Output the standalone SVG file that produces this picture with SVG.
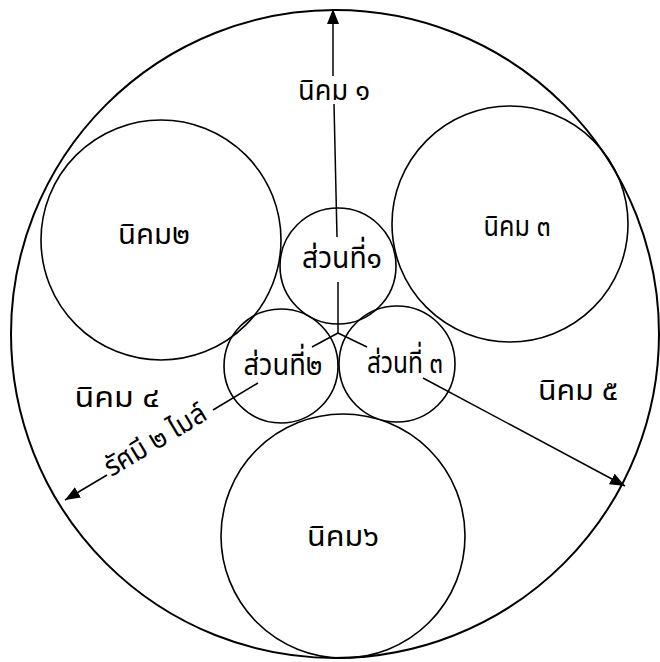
<svg xmlns="http://www.w3.org/2000/svg" width="660" height="662" viewBox="0 0 660 662">
<style>
.c{fill:none;stroke:#000;stroke-width:1.6}
.big{fill:none;stroke:#000;stroke-width:2}
.l{fill:none;stroke:#000;stroke-width:1.5}
.t{font-family:"Noto Sans Thai","Noto Sans","DejaVu Sans",sans-serif;font-size:28px;fill:#000;text-anchor:middle}
.s{font-size:31px}
</style>
<defs>
<marker id="ah" markerUnits="userSpaceOnUse" markerWidth="16" markerHeight="12" refX="15" refY="6" orient="auto">
<path d="M0,0 L15,6 L0,12 Z" fill="#000"/>
</marker>
</defs>
<rect width="660" height="662" fill="#fff"/>
<g id="boundary"><circle class="big" cx="335" cy="334" r="324"/></g>
<g id="nikhom2"><circle class="c" cx="161" cy="240" r="120"/><text class="t" x="154" y="244" textLength="72" lengthAdjust="spacingAndGlyphs">นิคม๒</text></g>
<g id="nikhom3"><circle class="c" cx="510" cy="224" r="118"/><text class="t" x="517" y="236" textLength="67" lengthAdjust="spacingAndGlyphs">นิคม ๓</text></g>
<g id="suan1"><circle class="c" cx="338" cy="266" r="58"/><text class="t s" x="342" y="268" textLength="80" lengthAdjust="spacingAndGlyphs">ส่วนที่๑</text></g>
<g id="suan2"><circle class="c" cx="281" cy="366" r="57"/><text class="t s" x="283" y="375" textLength="79" lengthAdjust="spacingAndGlyphs">ส่วนที่๒</text></g>
<g id="suan3"><circle class="c" cx="397" cy="364" r="58"/><text class="t s" x="405" y="373" textLength="76" lengthAdjust="spacingAndGlyphs">ส่วนที่ ๓</text></g>
<g id="nikhom6"><circle class="c" cx="343" cy="536" r="122"/><text class="t" x="343" y="546" textLength="72" lengthAdjust="spacingAndGlyphs">นิคม๖</text></g>
<g id="nikhom1"><text class="t" x="334" y="100" textLength="72" lengthAdjust="spacingAndGlyphs">นิคม ๑</text></g>
<g id="nikhom4"><text class="t" x="117" y="407" textLength="85" lengthAdjust="spacingAndGlyphs">นิคม ๔</text></g>
<g id="nikhom5"><text class="t" x="578" y="400" textLength="80" lengthAdjust="spacingAndGlyphs">นิคม ๕</text></g>
<g id="connectors">
<line class="l" x1="333" y1="76" x2="333" y2="9" marker-end="url(#ah)"/>
<line class="l" x1="334" y1="104" x2="337" y2="237"/>
<line class="l" x1="338" y1="282" x2="338" y2="333"/>
<line class="l" x1="338" y1="333" x2="312" y2="347"/>
<line class="l" x1="338" y1="333" x2="367" y2="347"/>
<line class="l" x1="258" y1="383" x2="213" y2="410"/>
<line class="l" x1="107" y1="475" x2="65" y2="500" marker-end="url(#ah)"/>
<line class="l" x1="423" y1="378" x2="625" y2="486" marker-end="url(#ah)"/>
<text class="t" x="160" y="448" transform="rotate(-31 160 448)" textLength="114" lengthAdjust="spacingAndGlyphs">รัศมี ๒ ไมล์</text>
</g>
</svg>
